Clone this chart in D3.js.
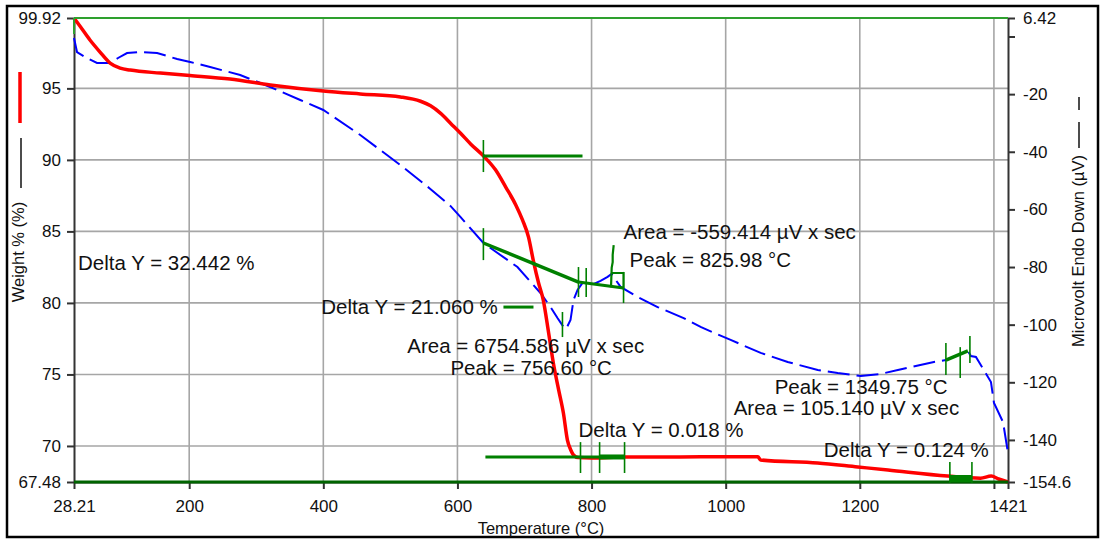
<!DOCTYPE html>
<html><head><meta charset="utf-8">
<script src="https://cdn.jsdelivr.net/npm/d3@7"></script>
<style>
body{margin:0;background:#fff}
svg{display:block}
text{font-family:"Liberation Sans",Arial,sans-serif;fill:#111}
</style>
</head><body><svg id="c" width="1104" height="540"></svg>
<script>
// ---------- data ----------
const tempTicks = [28.21,200,400,600,800,1000,1200,1400,1421];
const tempTickLabels = ["28.21","200","400","600","800","1000","1200","","1421"];
const weightTicks = [67.48,70,75,80,85,90,95,99.92];
const weightTickLabels = ["67.48","70","75","80","85","90","95","99.92"];
const uvTicks = [-154.6,-140,-120,-100,-80,-60,-40,-20,0,6.42];
const uvTickLabels = ["-154.6","-140","-120","-100","-80","-60","-40","-20","","6.42"];

const weightTemp = [28.21,37,52,67,82,97,112,157,201,261,321,400,455,515,545,560,575,590,605,620,639,657,672,687,697,706,713,721,728,736,743,751,758,764,769,773,780,800,850,900,963,1048,1052,1137,1197,1242,1331,1380,1396,1407,1421];
const weightPct  = [99.92,99.36,98.38,97.54,96.77,96.42,96.28,96.07,95.90,95.65,95.24,94.82,94.61,94.40,94.10,93.78,93.25,92.55,91.85,91.10,90.27,89.29,88.10,86.85,85.80,84.60,83.00,81.39,80.20,77.90,75.80,73.91,72.30,70.41,69.72,69.37,69.19,69.16,69.23,69.23,69.24,69.24,69.02,68.81,68.53,68.32,67.90,67.75,67.90,67.69,67.48];

const dtaTemp = [28.21,32.7,44.6,62.5,81.9,93.9,107.3,126.7,152.1,182,201.4,231.2,276,320.8,365.6,400,455.1,514.8,559.6,589.5,604.4,638.7,689.5,723.8,738.8,749.2,758.2,762,768.6,773.1,779.1,786.5,803,813.4,823.9,829.8,843.3,868.6,898.5,937.3,962.6,1007.4,1052.2,1092.5,1137.3,1167.1,1201.5,1231.4,1256.8,1310.5,1328.4,1361.2,1365.7,1373.2,1395.6,1400.1,1413.6,1421];
const dtaUv   = [-0.52,-5.38,-7.1,-9.2,-9.2,-7.46,-5.73,-5.38,-5.73,-7.81,-8.85,-10.58,-13.36,-17.52,-22.03,-25.5,-34.18,-44.6,-52.9,-58.8,-62.6,-71.66,-79.99,-89.0,-93.87,-97.7,-100.8,-101.5,-98.4,-91.4,-87.97,-85.5,-85.9,-84.8,-83.4,-82.4,-86.9,-90.4,-93.9,-97.7,-100.8,-105.3,-109.8,-112.95,-115.7,-116.8,-117.8,-117.1,-115.7,-112.96,-112.3,-109.1,-110.9,-111.2,-119.9,-127.2,-133.8,-144.5];

// annotation marker values (temperature, weight % or µV)
const totalStepTemps = [28.21,1421];
const totalStepWeights = [99.92,67.48];
const totalStepTick = [28.21,99.92,98.8];
const step1Line = [[638.7,90.27],[786.5,90.27]];
const step1Ticks = [[638.7,91.39,89.15]];
const step1Key = [[668.6,79.71],[713.4,79.71]];
const peak1Base = [[638.7,-71.66],[780.5,-85.2]];
const peak2Base = [[780.5,-85.2],[847.7,-87.3]];
const peakTicksUv = [[638.7,-66.5,-77.6],[780.5,-80.0,-90.4],[756.6,-95.6,-104.3],[792,-80.3,-90.4],[847.7,-81.7,-92.5],[1328.4,-106.4,-117.5],[1349.75,-107.8,-118.5],[1364.2,-103.9,-113.3]];
const peak2Spike = [[829.0,-87.0],[830.0,-80.3],[831.5,-78.3],[831.5,-75.8],[833.0,-72.4]];
const peak2Box = [[829.0,-82.1],[847.7,-82.1],[847.7,-87.3]];
const peak3Base = [[1328.4,-112.3],[1361.2,-109.1]];
const step2Line = [[641.7,69.23],[849.2,69.23]];
const step2Thick = [[812,69.23],[849.2,69.23]];
const step2Ticks = [[783.5,70.27,68.11],[812,70.27,68.11],[849.2,70.27,68.11]];
const step3Ticks = [[1334.3,68.88,67.41],[1367.2,68.88,67.41]];
const step3Band = [1334.3,1367.2,67.97,67.48];

const annotations = [
  {text:"Delta Y = 32.442 %", t:34.2, w:82.79},
  {text:"Delta Y = 21.060 %", t:396.9, w:79.71},
  {text:"Area = 6754.586 µV x sec", t:525.3, w:76.99},
  {text:"Peak = 756.60 °C", t:589.5, w:75.45},
  {text:"Area = -559.414 µV x sec", t:847.7, w:84.96},
  {text:"Peak = 825.98 °C", t:856.7, w:83.0},
  {text:"Delta Y = 0.018 %", t:780.5, w:71.11},
  {text:"Peak = 1349.75 °C", t:1073.1, w:74.12},
  {text:"Area = 105.140 µV x sec", t:1011.9, w:72.65},
  {text:"Delta Y = 0.124 %", t:1146.3, w:69.72}
];

// ---------- layout ----------
const L=74, R=1008, T=18, B=482;
const svg = d3.select("#c");
const x = d3.scaleLinear().domain([28.21,1421]).range([L,R]);
const yL = d3.scaleLinear().domain([67.48,99.92]).range([B,T]);
const yR = d3.scaleLinear().domain([-154.6,6.42]).range([B,T]);
const GREEN="#008000";

// frame
svg.append("rect").attr("x",7).attr("y",6).attr("width",1091).attr("height",531)
  .attr("fill","none").attr("stroke","#000").attr("stroke-width",2.5);

// grid
const gGrid = svg.append("g").attr("stroke","#a6a6a6").attr("stroke-width",1.6);
tempTicks.filter(d=>d>28.21&&d<1421).forEach(d=>{
  gGrid.append("line").attr("x1",x(d)).attr("x2",x(d)).attr("y1",T).attr("y2",B);
});
weightTicks.filter(d=>d>67.48&&d<99.92).forEach(d=>{
  gGrid.append("line").attr("x1",L).attr("x2",R).attr("y1",yL(d)).attr("y2",yL(d));
});

// axes
function styleAxis(g){
  g.selectAll("path,line").attr("stroke","#333").attr("stroke-width",2);
  g.selectAll("text").attr("font-size","17px").attr("fill","#111")
   .attr("font-family",'"Liberation Sans",Arial,sans-serif');
}
const ax = svg.append("g").attr("transform",`translate(0,${B})`)
  .call(d3.axisBottom(x).tickValues(tempTicks).tickFormat((d,i)=>tempTickLabels[i]).tickSize(7).tickSizeOuter(0).tickPadding(11));
styleAxis(ax);
const ayl = svg.append("g").attr("transform",`translate(${L},0)`)
  .call(d3.axisLeft(yL).tickValues(weightTicks).tickFormat((d,i)=>weightTickLabels[i]).tickSize(7).tickSizeOuter(0).tickPadding(6));
styleAxis(ayl);
const ayr = svg.append("g").attr("transform",`translate(${R},0)`)
  .call(d3.axisRight(yR).tickValues(uvTicks).tickFormat((d,i)=>uvTickLabels[i]).tickSize(7).tickSizeOuter(0).tickPadding(8));
styleAxis(ayr);

// axis titles
svg.append("text").attr("x",(L+R)/2).attr("y",534).attr("text-anchor","middle")
  .attr("font-size","16.5px").text("Temperature (°C)");
svg.append("text").attr("transform","translate(24,252) rotate(-90)").attr("text-anchor","middle")
  .attr("font-size","16.5px").text("Weight % (%)");
svg.append("text").attr("transform","translate(1084,251) rotate(-90)").attr("text-anchor","middle")
  .attr("font-size","16.5px").text("Microvolt Endo Down (µV)");

// legend keys beside axis titles
svg.append("line").attr("x1",20).attr("x2",20).attr("y1",72).attr("y2",123).attr("stroke","red").attr("stroke-width",3.5);
svg.append("line").attr("x1",21).attr("x2",21).attr("y1",138).attr("y2",188).attr("stroke","#111").attr("stroke-width",1.5);
svg.append("line").attr("x1",1079).attr("x2",1079).attr("y1",97).attr("y2",110).attr("stroke","#111").attr("stroke-width",1.5);
svg.append("line").attr("x1",1079).attr("x2",1079).attr("y1",122).attr("y2",148).attr("stroke","#111").attr("stroke-width",1.5);

// curves
const dtaPts = dtaTemp.map((t,i)=>[t,dtaUv[i]]);
const wPts = weightTemp.map((t,i)=>[t,weightPct[i]]);
svg.append("path").datum(dtaPts)
  .attr("d",d3.line().x(d=>x(d[0])).y(d=>yR(d[1])))
  .attr("fill","none").attr("stroke","#0000ff").attr("stroke-width",2).attr("stroke-dasharray","22,7");
svg.append("path").datum(wPts)
  .attr("d",d3.line().x(d=>x(d[0])).y(d=>yL(d[1])).curve(d3.curveMonotoneX))
  .attr("fill","none").attr("stroke","#ff0000").attr("stroke-width",3.5).attr("stroke-linejoin","round");

// green markers
const g = svg.append("g").attr("fill","none").attr("stroke",GREEN);
const lineL = d3.line().x(d=>x(d[0])).y(d=>yL(d[1]));
const lineR = d3.line().x(d=>x(d[0])).y(d=>yR(d[1]));
// total step (top & bottom)
g.append("line").attr("x1",x(totalStepTemps[0])).attr("x2",x(totalStepTemps[1]))
  .attr("y1",yL(totalStepWeights[0])).attr("y2",yL(totalStepWeights[0])).attr("stroke","#2ea02e").attr("stroke-width",2);
g.append("line").attr("x1",x(totalStepTemps[0])).attr("x2",x(totalStepTemps[1]))
  .attr("y1",yL(totalStepWeights[1])).attr("y2",yL(totalStepWeights[1])).attr("stroke","#006400").attr("stroke-width",3);
g.append("line").attr("x1",x(totalStepTick[0])).attr("x2",x(totalStepTick[0]))
  .attr("y1",yL(totalStepTick[1])).attr("y2",yL(totalStepTick[2])).attr("stroke","#2ea02e").attr("stroke-width",2);
// step 1
g.append("path").attr("d",lineL(step1Line)).attr("stroke-width",3);
g.append("path").attr("d",lineL(step1Key)).attr("stroke-width",3);
step1Ticks.forEach(d=>g.append("line").attr("x1",x(d[0])).attr("x2",x(d[0])).attr("y1",yL(d[1])).attr("y2",yL(d[2])).attr("stroke-width",1.6));
// peaks
g.append("path").attr("d",lineR(peak1Base)).attr("stroke-width",3.5);
g.append("path").attr("d",lineR(peak2Base)).attr("stroke-width",3);
g.append("path").attr("d",lineR(peak2Spike)).attr("stroke-width",2.2);
g.append("path").attr("d",lineR(peak2Box)).attr("stroke-width",2);
g.append("path").attr("d",lineR(peak3Base)).attr("stroke-width",3.5);
peakTicksUv.forEach(d=>g.append("line").attr("x1",x(d[0])).attr("x2",x(d[0])).attr("y1",yR(d[1])).attr("y2",yR(d[2])).attr("stroke-width",1.6));
// step 2
g.append("path").attr("d",lineL(step2Line)).attr("stroke-width",3);
g.append("path").attr("d",lineL(step2Thick)).attr("stroke-width",5);
step2Ticks.forEach(d=>g.append("line").attr("x1",x(d[0])).attr("x2",x(d[0])).attr("y1",yL(d[1])).attr("y2",yL(d[2])).attr("stroke-width",1.6));
// step 3
svg.append("rect").attr("x",x(step3Band[0])).attr("width",x(step3Band[1])-x(step3Band[0]))
  .attr("y",yL(step3Band[2])).attr("height",yL(step3Band[3])-yL(step3Band[2])).attr("fill",GREEN);
step3Ticks.forEach(d=>g.append("line").attr("x1",x(d[0])).attr("x2",x(d[0])).attr("y1",yL(d[1])).attr("y2",yL(d[2])).attr("stroke-width",1.6));

// annotation texts
svg.append("g").selectAll("text").data(annotations).join("text")
  .attr("x",d=>x(d.t)).attr("y",d=>yL(d.w)).attr("dy","0.36em")
  .attr("font-size","20.5px").text(d=>d.text);
</script>
</body></html>
